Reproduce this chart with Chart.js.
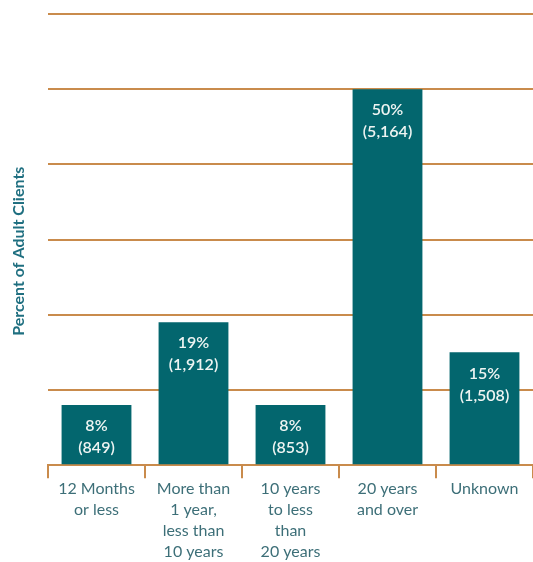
<!DOCTYPE html>
<html>
<head>
<meta charset="utf-8">
<script src="https://cdn.jsdelivr.net/npm/chart.js@4/dist/chart.umd.min.js"></script>
<style>
  html, body { margin: 0; padding: 0; background: #fff; }
  #wrap { position: relative; width: 533px; height: 562px; }
</style>
</head>
<body>
<div id="wrap"><canvas id="chart"></canvas></div>
<script>
const categories = [
  ['12 Months', 'or less'],
  ['More than', '1 year,', 'less than', '10 years'],
  ['10 years', 'to less', 'than', '20 years'],
  ['20 years', 'and over'],
  ['Unknown'],
];
const percents = [8, 19, 8, 50, 15];
const counts = ['849', '1,912', '853', '5,164', '1,508'];

const TEAL = '#03666e';
const GOLD = '#c98b4c';
const LABEL = '#3d6f78';

// white labels inside the top of each bar
const barLabels = {
  id: 'barLabels',
  afterDatasetsDraw(chart) {
    const ctx = chart.ctx;
    const meta = chart.getDatasetMeta(0);
    ctx.save();
    ctx.fillStyle = '#eef4f2';
    ctx.font = '600 16px Lato, "Open Sans", sans-serif';
    ctx.textAlign = 'center';
    ctx.textBaseline = 'middle';
    meta.data.forEach((bar, i) => {
      ctx.fillText(percents[i] + '%', bar.x, bar.y + 21);
      ctx.fillText('(' + counts[i] + ')', bar.x, bar.y + 43);
    });
    ctx.restore();
  },
};

new Chart(document.getElementById('chart'), {
  type: 'bar',
  data: {
    labels: categories,
    datasets: [{
      data: percents,
      backgroundColor: TEAL,
      barPercentage: 0.72,
      categoryPercentage: 1,
    }],
  },
  options: {
    responsive: true,
    maintainAspectRatio: false,
    animation: false,
    layout: { padding: { top: 14, right: 0, bottom: 0, left: 0 } },
    plugins: { legend: { display: false }, tooltip: { enabled: false } },
    scales: {
      x: {
        border: { display: true, color: GOLD, width: 2 },
        grid: { display: true, drawOnChartArea: false, drawTicks: true, tickLength: 13, color: GOLD, lineWidth: 2 },
        ticks: {
          color: LABEL,
          font: { family: 'Lato, "Open Sans", sans-serif', size: 16, lineHeight: 1.31 },
          padding: 0,
          maxRotation: 0,
          autoSkip: false,
        },
      },
      y: {
        min: 0,
        max: 60,
        border: { display: false },
        grid: { color: GOLD, lineWidth: 2, drawTicks: false },
        ticks: { display: false, stepSize: 10 },
        title: {
          display: true,
          // trailing spaces nudge the rotated title a little lower, as in the original
          text: 'Percent of Adult Clients      ',
          color: '#1f6f80',
          font: { family: 'Lato, "Open Sans", sans-serif', size: 16, weight: 'bold' },
          padding: { top: 9, bottom: 0 },
        },
        afterFit(axis) { axis.width = 48; },
      },
    },
  },
  plugins: [barLabels],
});
</script>
</body>
</html>
